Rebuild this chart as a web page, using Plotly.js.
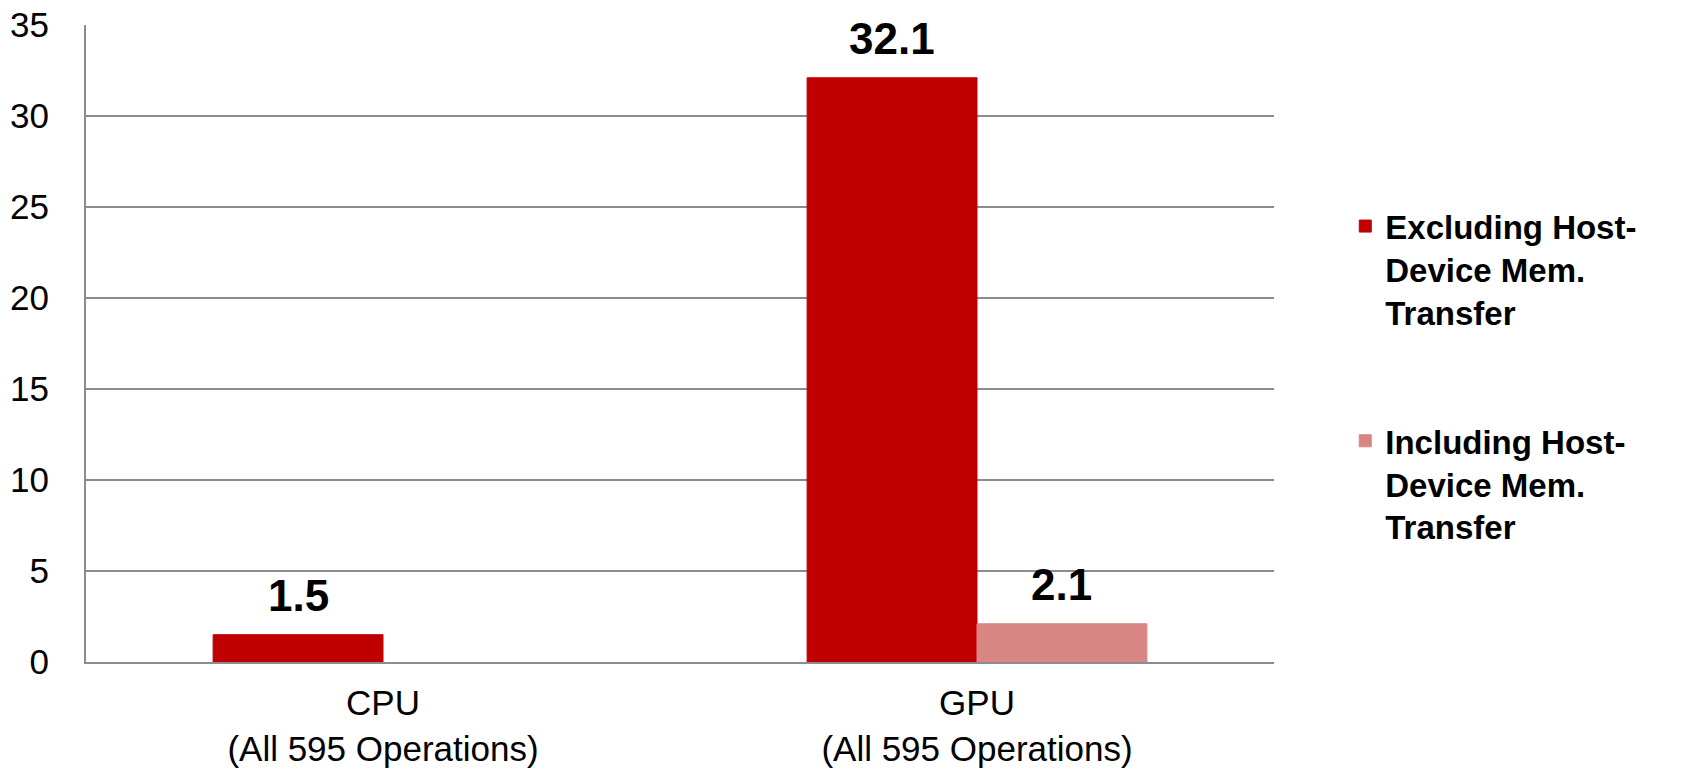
<!DOCTYPE html>
<html>
<head>
<meta charset="utf-8">
<script src="https://cdn.plot.ly/plotly-3.0.1.min.js"></script>
<style>html,body{margin:0;padding:0;background:#fff;}#chart{width:1682px;height:769px;}</style>
</head>
<body>
<div id="chart"></div>
<script>
const categories = ["CPU<br>(All 595 Operations)", "GPU<br>(All 595 Operations)"];
const seriesNames = ["Excluding Host-<br>Device Mem.<br>Transfer", "Including Host-<br>Device Mem.<br>Transfer"];
const excludingValues = [1.5, 32.1];
const includingValues = [null, 2.1];
const seriesColors = ["#C00000", "#D98584"];
const yTickValues = [0, 5, 10, 15, 20, 25, 30, 35];

const bargap = 0.428;
const allSeries = [excludingValues, includingValues];
const nSeries = allSeries.length;
const barW = (1 - bargap) / nSeries;

const traces = allSeries.map((vals, i) => ({
  type: 'bar',
  x: categories,
  y: vals,
  name: seriesNames[i],
  legendgroup: 'g' + i,
  marker: {color: seriesColors[i], line: {color: seriesColors[i], width: 1}},
  hoverinfo: 'none'
}));

const annotations = [];
allSeries.forEach((vals, i) => {
  vals.forEach((v, j) => {
    if (v === null) return;
    annotations.push({
      x: j + (i - (nSeries - 1) / 2) * barW,
      y: v,
      xref: 'x', yref: 'y',
      text: v.toFixed(1),
      showarrow: false,
      yanchor: 'middle',
      yshift: 39,
      font: {family: 'Liberation Sans, Arial, sans-serif', size: 44, color: '#000', weight: 'bold'}
    });
  });
});

const layout = {
  width: 1682, height: 769,
  margin: {l: 86, r: 408, t: 25, b: 107, pad: 0},
  paper_bgcolor: '#fff', plot_bgcolor: '#fff',
  barmode: 'group',
  bargap: bargap,
  bargroupgap: 0,
  font: {family: 'Liberation Sans, Arial, sans-serif', color: '#000'},
  xaxis: {
    type: 'category',
    tickfont: {size: 35, color: '#000'},
    showgrid: false,
    showline: true, linecolor: '#8c8c8c', linewidth: 2,
    ticks: '', ticklabelstandoff: 9,
    fixedrange: true
  },
  yaxis: {
    range: [0, 35],
    tickvals: yTickValues,
    ticktext: yTickValues.map(String),
    tickfont: {size: 35, color: '#000'},
    showgrid: true, gridcolor: '#8c8c8c', gridwidth: 1.5,
    showline: true, linecolor: '#8c8c8c', linewidth: 2,
    zeroline: false,
    ticks: '', ticklabelstandoff: 28,
    fixedrange: true
  },
  showlegend: true,
  legend: {
    x: 1.06, xanchor: 'left',
    y: 0.448, yanchor: 'middle',
    traceorder: 'grouped',
    tracegroupgap: 83,
    valign: 'top',
    font: {size: 33, color: '#000', weight: 'bold'},
    bgcolor: 'rgba(0,0,0,0)'
  },
  annotations: annotations
};

Plotly.newPlot('chart', traces, layout, {displayModeBar: false, staticPlot: true});
</script>
</body>
</html>
